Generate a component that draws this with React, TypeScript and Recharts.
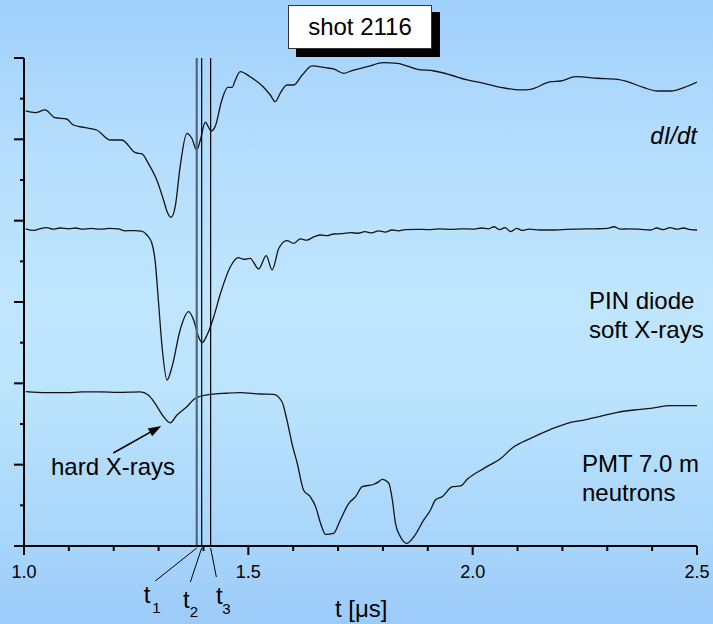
import React from "react";
import { LineChart, Line, XAxis, YAxis, ReferenceLine } from "recharts";

// ---- data (time in µs, signal in arbitrary offset units) ----
const didtSamples: [number, number][] = [
  [1.004, 5.349], [1.025, 5.328], [1.047, 5.361], [1.069, 5.266], [1.095, 5.25], [1.11, 5.176],
  [1.136, 5.144], [1.162, 5.115], [1.192, 4.992], [1.218, 4.992], [1.248, 4.836], [1.263, 4.82],
  [1.277, 4.705], [1.296, 4.5], [1.311, 4.254], [1.319, 4.111], [1.328, 4.041], [1.337, 4.172],
  [1.348, 4.664], [1.363, 5.074], [1.374, 5.013], [1.385, 4.869], [1.393, 4.992], [1.404, 5.21],
  [1.417, 5.103], [1.426, 5.156], [1.441, 5.484], [1.454, 5.64], [1.464, 5.64], [1.471, 5.73],
  [1.482, 5.832], [1.504, 5.77], [1.534, 5.64], [1.549, 5.545], [1.56, 5.463], [1.571, 5.566],
  [1.586, 5.668], [1.601, 5.668], [1.62, 5.791], [1.642, 5.902], [1.672, 5.881], [1.69, 5.865],
  [1.713, 5.812], [1.728, 5.84], [1.765, 5.893], [1.802, 5.943], [1.832, 5.935], [1.877, 5.861],
  [1.914, 5.84], [1.951, 5.791], [1.988, 5.73], [2.025, 5.689], [2.063, 5.64], [2.107, 5.607],
  [2.129, 5.615], [2.174, 5.709], [2.196, 5.717], [2.23, 5.77], [2.278, 5.751], [2.323, 5.738],
  [2.345, 5.709], [2.382, 5.635], [2.412, 5.594], [2.442, 5.594], [2.472, 5.64], [2.5, 5.705],
];

const pinSamples: [number, number][] = [
  [1.004, 3.9], [1.02, 3.88], [1.035, 3.9], [1.05, 3.915], [1.065, 3.895], [1.08, 3.91],
  [1.1, 3.9], [1.115, 3.91], [1.13, 3.895], [1.15, 3.905], [1.17, 3.895], [1.19, 3.905],
  [1.21, 3.9], [1.225, 3.875], [1.245, 3.878], [1.262, 3.872], [1.274, 3.824], [1.285, 3.722],
  [1.292, 3.517], [1.3, 2.984], [1.307, 2.492], [1.319, 2.041], [1.33, 2.205], [1.348, 2.656],
  [1.367, 2.881], [1.378, 2.779], [1.389, 2.574], [1.397, 2.5], [1.408, 2.594], [1.423, 2.819],
  [1.438, 3.107], [1.46, 3.434], [1.478, 3.545], [1.49, 3.525], [1.504, 3.537], [1.523, 3.406],
  [1.54, 3.569], [1.553, 3.394], [1.568, 3.66], [1.586, 3.754], [1.601, 3.722], [1.616, 3.775],
  [1.63, 3.76], [1.646, 3.8], [1.661, 3.824], [1.675, 3.815], [1.69, 3.836], [1.71, 3.84],
  [1.728, 3.852], [1.745, 3.845], [1.76, 3.865], [1.775, 3.85], [1.79, 3.875], [1.805, 3.86],
  [1.82, 3.885], [1.835, 3.875], [1.85, 3.89], [1.877, 3.894], [1.9, 3.89], [1.925, 3.898],
  [1.951, 3.894], [1.975, 3.9], [2.0, 3.896], [2.02, 3.91], [2.035, 3.9], [2.048, 3.925],
  [2.06, 3.89], [2.072, 3.915], [2.085, 3.865], [2.098, 3.905], [2.11, 3.88], [2.125, 3.895],
  [2.15, 3.885], [2.174, 3.885], [2.2, 3.89], [2.225, 3.895], [2.248, 3.898], [2.275, 3.9],
  [2.3, 3.905], [2.315, 3.925], [2.33, 3.895], [2.345, 3.9], [2.37, 3.895], [2.397, 3.885],
  [2.41, 3.91], [2.425, 3.89], [2.44, 3.915], [2.455, 3.895], [2.47, 3.91], [2.485, 3.89],
  [2.5, 3.885],
];

const pmtSamples: [number, number][] = [
  [1.004, 1.897], [1.05, 1.885], [1.095, 1.885], [1.13, 1.894], [1.17, 1.894], [1.21, 1.888],
  [1.259, 1.894], [1.277, 1.857], [1.292, 1.755], [1.311, 1.59], [1.326, 1.515], [1.341, 1.611],
  [1.363, 1.713], [1.382, 1.816], [1.408, 1.857], [1.452, 1.878], [1.482, 1.885], [1.527, 1.869],
  [1.556, 1.865], [1.575, 1.774], [1.586, 1.549], [1.598, 1.242], [1.609, 1.017], [1.623, 0.689],
  [1.638, 0.606], [1.65, 0.483], [1.661, 0.279], [1.672, 0.144], [1.69, 0.156], [1.705, 0.32],
  [1.724, 0.525], [1.739, 0.606], [1.754, 0.729], [1.78, 0.759], [1.791, 0.791], [1.798, 0.82],
  [1.813, 0.771], [1.821, 0.566], [1.828, 0.279], [1.839, 0.114], [1.853, 0.033], [1.869, 0.114],
  [1.891, 0.32], [1.906, 0.443], [1.917, 0.566], [1.932, 0.606], [1.955, 0.729], [1.973, 0.738],
  [1.988, 0.82], [2.025, 0.955], [2.063, 1.078], [2.089, 1.209], [2.129, 1.324], [2.174, 1.435],
  [2.211, 1.509], [2.248, 1.549], [2.286, 1.598], [2.323, 1.644], [2.36, 1.672], [2.397, 1.693],
  [2.442, 1.725], [2.5, 1.725],
];

const markerTimes = [1.385, 1.396, 1.416];
const markerNames = ["1", "2", "3"];

const xTicks = [1.0, 1.1, 1.2, 1.3, 1.4, 1.5, 1.6, 1.7, 1.8, 1.9, 2.0, 2.1, 2.2, 2.3, 2.4, 2.5];
const majorTicks = [1.0, 1.5, 2.0, 2.5];
const majorTickLabels = ["1.0", "1.5", "2.0", "2.5"];
const yTicks = [0, 0.5, 1, 1.5, 2, 2.5, 3, 3.5, 4, 4.5, 5, 5.5, 6];

const hardXrayArrow = [
  { x: 1.199, y: 1.143 },
  { x: 1.306, y: 1.475 },
];

const title = "shot 2116";
const xAxisTitle = "t [\u03bcs]";

// ---- presentation ----
const FONT = "'Liberation Sans', Arial, Helvetica, sans-serif";
const toPoints = (s: [number, number][]) => s.map(([t, v]) => ({ t, v }));

const XTick = (props: any) => {
  const { x, y, payload } = props;
  const idx = majorTicks.findIndex((m) => Math.abs(m - payload.value) < 1e-6);
  const major = idx >= 0;
  return (
    <g>
      <line x1={x} x2={x} y1={y} y2={y + (major ? 9 : 5)} stroke="#000" strokeWidth={2} />
      {major && (
        <text x={x} y={y + 32} textAnchor="middle" fontSize={18} fontFamily={FONT} fill="#000">
          {majorTickLabels[idx]}
        </text>
      )}
    </g>
  );
};

const YTick = (props: any) => {
  const { x, y, payload } = props;
  const major = Math.abs(payload.value - Math.round(payload.value)) < 1e-6;
  return <line x1={x - (major ? 10 : 4)} x2={x} y1={y} y2={y} stroke="#000" strokeWidth={2} />;
};

// offsets for t-labels (leader end dx,dy ; "t" text dx,dy ; subscript dx,dy)
const markerLabelLayout = [
  { lx: -41.5, ly: 35, tx: -53, ty: 57, sx: -44.5, sy: 67 },
  { lx: -11.3, ly: 36, tx: -18.6, ty: 62, sx: -12, sy: 71 },
  { lx: 5.7, ly: 31, tx: 5.4, ty: 58, sx: 11.7, sy: 68 },
];

const makeMarkerLabel = (i: number) => (props: any) => {
  const vb = props.viewBox || {};
  const x = vb.x;
  const bottom = vb.y + vb.height;
  const L = markerLabelLayout[i];
  return (
    <g>
      <line x1={x} y1={bottom + 2} x2={x + L.lx} y2={bottom + L.ly} stroke="#000" strokeWidth={1} />
      <text x={x + L.tx} y={bottom + L.ty} fontSize={24} fontFamily={FONT} fill="#000">t</text>
      <text x={x + L.sx} y={bottom + L.sy} fontSize={15} fontFamily={FONT} fill="#000">{markerNames[i]}</text>
    </g>
  );
};

const ArrowShape = (props: any) => {
  const { x1, y1, x2, y2 } = props;
  const ang = Math.atan2(y2 - y1, x2 - x1);
  const len = 13;
  const w = 4.5;
  const bx = x2 - len * Math.cos(ang);
  const by = y2 - len * Math.sin(ang);
  const px = -Math.sin(ang) * w;
  const py = Math.cos(ang) * w;
  return (
    <g>
      <line x1={x1} y1={y1} x2={bx} y2={by} stroke="#000" strokeWidth={1.6} />
      <polygon points={`${x2},${y2} ${bx + px},${by + py} ${bx - px},${by - py}`} fill="#000" />
    </g>
  );
};

const markerColors = ["#55677a", "#000", "#000"];
const markerWidths = [2.2, 1.2, 1.2];

export default function App() {
  return (
    <div
      style={{
        position: "absolute",
        left: 0,
        top: 0,
        width: 713,
        height: 624,
        background:
          "linear-gradient(to bottom, #a0d0fc 0%, #b6defd 25%, #bfe6fd 48%, #bce4fd 62%, #a9d6fb 85%, #9ccbf9 100%)",
        overflow: "hidden",
      }}
    >
      <LineChart width={713} height={624} margin={{ top: 58, right: 16, bottom: 77, left: 23 }}>
        <XAxis
          type="number"
          dataKey="t"
          domain={[1.0, 2.5]}
          ticks={xTicks}
          interval={0}
          allowDataOverflow
          height={1}
          tickSize={0}
          tickMargin={0}
          tickLine={false}
          axisLine={{ stroke: "#000", strokeWidth: 2 }}
          tick={(p: any) => <XTick {...p} />}
        />
        <YAxis
          type="number"
          domain={[0, 6]}
          ticks={yTicks}
          interval={0}
          allowDataOverflow
          width={1}
          tickSize={0}
          tickMargin={0}
          tickLine={false}
          axisLine={{ stroke: "#000", strokeWidth: 2 }}
          tick={(p: any) => <YTick {...p} />}
        />
        <Line data={toPoints(didtSamples)} dataKey="v" type="monotone" stroke="#141414" strokeWidth={1.3} dot={false} isAnimationActive={false} />
        <Line data={toPoints(pinSamples)} dataKey="v" type="monotone" stroke="#141414" strokeWidth={1.3} dot={false} isAnimationActive={false} />
        <Line data={toPoints(pmtSamples)} dataKey="v" type="monotone" stroke="#141414" strokeWidth={1.3} dot={false} isAnimationActive={false} />
        {markerTimes.map((t, i) => (
          <ReferenceLine
            key={i}
            x={t}
            stroke={markerColors[i]}
            strokeWidth={markerWidths[i]}
            label={makeMarkerLabel(i)}
          />
        ))}
        <ReferenceLine segment={hardXrayArrow} shape={(p: any) => <ArrowShape {...p} />} />
      </LineChart>
      <svg
        width={713}
        height={624}
        style={{ position: "absolute", left: 0, top: 0, pointerEvents: "none" }}
        fontFamily={FONT}
      >
        <rect x={296} y={12} width={144} height={45} fill="#000" />
        <rect x={288.5} y={5.5} width={143} height={43} fill="#fff" stroke="#333" strokeWidth={1} />
        <text x={360} y={35} textAnchor="middle" fontSize={24} fill="#000">{title}</text>
        <text x={697} y={144} textAnchor="end" fontSize={24} fontStyle="italic" fill="#000">dI/dt</text>
        <text x={589} y={309} fontSize={24} fill="#000">PIN diode</text>
        <text x={589} y={338} fontSize={24} fill="#000">soft X-rays</text>
        <text x={582} y={472} fontSize={24} fill="#000">PMT 7.0 m</text>
        <text x={582} y={501} fontSize={24} fill="#000">neutrons</text>
        <text x={51} y={475} fontSize={24} fill="#000">hard X-rays</text>
        <text x={335} y={617} fontSize={24} fill="#000">{xAxisTitle}</text>
      </svg>
    </div>
  );
}
